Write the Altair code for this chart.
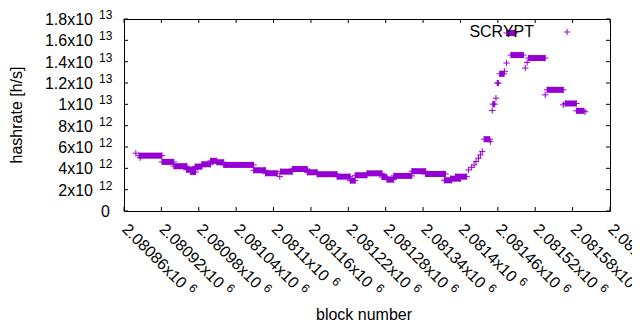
import altair as alt
import pandas as pd

PURPLE = "#9400D3"
FONT = "Liberation Sans"
W, H = 486, 192

# ---- data (hashrate in units of 1e12 h/s) ----
# runs of blocks where many consecutive points sit at (about) the same value
band_start = [2080884, 2080921, 2080940, 2080960, 2080967, 2080974, 2080985, 2080999,
              2081009, 2081020, 2081068, 2081087, 2081111, 2081130, 2081154, 2081170,
              2081202, 2081223, 2081231, 2081250, 2081274, 2081282, 2081293, 2081322,
              2081344, 2081374, 2081384, 2081392, 2081438, 2081452, 2081459, 2081463,
              2081474, 2081481, 2081509, 2081539, 2081568, 2081586]
band_end = [2080921, 2080940, 2080961, 2080975, 2080975, 2080985, 2080999, 2081009,
            2081020, 2081068, 2081087, 2081106, 2081130, 2081154, 2081170, 2081202,
            2081223, 2081231, 2081250, 2081274, 2081282, 2081293, 2081322, 2081344,
            2081376, 2081386, 2081400, 2081410, 2081447, 2081455, 2081461, 2081470,
            2081487, 2081501, 2081536, 2081565, 2081586, 2081598]
band_value = [5.19, 4.60, 4.20, 3.88, 3.66, 4.16, 4.38, 4.70,
              4.57, 4.32, 3.82, 3.54, 3.69, 3.94, 3.63, 3.45,
              3.22, 2.85, 3.35, 3.53, 3.19, 2.94, 3.29, 3.73,
              3.47, 2.88, 3.03, 3.22, 6.73, 10.02, 11.99, 12.86,
              16.69, 14.62, 14.34, 11.36, 10.08, 9.39]

# isolated points
pt_block = [2080879, 2080886, 2081110, 2081413, 2081418, 2081422, 2081425, 2081429,
            2081432, 2081435, 2081448, 2081451, 2081457, 2081471, 2081474, 2081504,
            2081507, 2081536, 2081565, 2081600]
pt_value = [5.42, 5.00, 3.22, 3.85, 4.10, 4.32, 4.63, 4.95,
            5.26, 5.57, 6.50, 9.42, 10.58, 13.10, 13.87, 13.40,
            13.93, 10.89, 9.95, 9.30]

series_name = ["SCRYPT"]

# ---- axis ticks / labels ----
y_ticks = [0, 2, 4, 6, 8, 10, 12, 14, 16, 18]
y_main = ["0", "2x10", "4x10", "6x10", "8x10", "1x10", "1.2x10", "1.4x10", "1.6x10", "1.8x10"]
y_sup = ["", "12", "12", "12", "12", "13", "13", "13", "13", "13"]

x_ticks = [2080860, 2080920, 2080980, 2081040, 2081100, 2081160, 2081220,
           2081280, 2081340, 2081400, 2081460, 2081520, 2081580, 2081640]
x_main = ["2.08086x10", "2.08092x10", "2.08098x10", "2.08104x10", "2.0811x10",
          "2.08116x10", "2.08122x10", "2.08128x10", "2.08134x10", "2.0814x10",
          "2.08146x10", "2.08152x10", "2.08158x10", "2.08164x10"]
x_sup = ["6"] * len(x_ticks)

X_DOMAIN = [2080860, 2081640]
Y_DOMAIN = [0, 18]

xs = alt.Scale(domain=X_DOMAIN, nice=False, zero=False)
ys = alt.Scale(domain=Y_DOMAIN, nice=False, zero=False)

CROSS = "M-1,0L1,0M0,-1L0,1"

band_df = pd.DataFrame({"start": band_start, "end": band_end, "v": band_value})
pt_df = pd.DataFrame({"block": pt_block, "v": pt_value})

bands = alt.Chart(band_df).mark_rule(color=PURPLE, strokeWidth=6, strokeCap="butt").encode(
    x=alt.X("start:Q", scale=xs, axis=None),
    x2="end:Q",
    y=alt.Y("v:Q", scale=ys, axis=None),
)

def cross_layer(df, xf):
    return alt.Chart(df).mark_point(shape=CROSS, filled=False, stroke=PURPLE,
                                    strokeWidth=1, size=40, opacity=1).encode(
        x=alt.X(f"{xf}:Q", scale=xs, axis=None),
        y=alt.Y("v:Q", scale=ys, axis=None),
    )

band_starts = cross_layer(band_df, "start")
band_ends = cross_layer(band_df, "end")
points = cross_layer(pt_df, "block")

# ticks (inward, mirrored)
yt_df = pd.DataFrame({"v": y_ticks, "main": y_main, "sup": y_sup})
xt_df = pd.DataFrame({"b": x_ticks, "main": x_main, "sup": x_sup})

ytick_l = alt.Chart(yt_df).mark_rule(color="black", strokeWidth=1).encode(
    y=alt.Y("v:Q", scale=ys, axis=None), x=alt.value(0), x2=alt.value(4))
ytick_r = alt.Chart(yt_df).mark_rule(color="black", strokeWidth=1).encode(
    y=alt.Y("v:Q", scale=ys, axis=None), x=alt.value(W - 4), x2=alt.value(W))
xtick_b = alt.Chart(xt_df).mark_rule(color="black", strokeWidth=1).encode(
    x=alt.X("b:Q", scale=xs, axis=None), y=alt.value(H - 4), y2=alt.value(H))
xtick_t = alt.Chart(xt_df).mark_rule(color="black", strokeWidth=1).encode(
    x=alt.X("b:Q", scale=xs, axis=None), y=alt.value(0), y2=alt.value(4))

TICK_FS = 16
SUP_FS = 12

ylab_main = alt.Chart(yt_df).transform_filter("datum.sup != ''").mark_text(
    align="right", baseline="middle", font=FONT, fontSize=TICK_FS, color="black", dy=1).encode(
    y=alt.Y("v:Q", scale=ys, axis=None), x=alt.value(-31), text="main:N")
ylab_zero = alt.Chart(yt_df).transform_filter("datum.sup == ''").mark_text(
    align="right", baseline="middle", font=FONT, fontSize=TICK_FS, color="black", dy=1).encode(
    y=alt.Y("v:Q", scale=ys, axis=None), x=alt.value(-14), text="main:N")
ylab_sup = alt.Chart(yt_df).transform_filter("datum.sup != ''").mark_text(
    align="left", baseline="middle", font=FONT, fontSize=SUP_FS, color="black", dy=-4).encode(
    y=alt.Y("v:Q", scale=ys, axis=None), x=alt.value(-25), text="sup:N")

X_LAB_Y = H + 15
xlab_main = alt.Chart(xt_df).mark_text(
    align="left", baseline="middle", angle=45, font=FONT, fontSize=TICK_FS, color="black",
    dx=1).encode(
    x=alt.X("b:Q", scale=xs, axis=None), y=alt.value(X_LAB_Y), text="main:N")

# superscripts placed after main text (advance widths of Liberation Sans)
ADV = {c: 0.556 for c in "0123456789"}
ADV.update({".": 0.278, "x": 0.5})
sup_layers = []
for n in sorted(set(len(s) for s in x_main)):
    sample = [s for s in x_main if len(s) == n][0]
    w = sum(ADV[c] for c in sample) * TICK_FS + 6
    sup_layers.append(
        alt.Chart(xt_df).transform_filter(f"length(datum.main) == {n}").mark_text(
            align="left", baseline="middle", angle=45, font=FONT, fontSize=SUP_FS,
            color="black", dx=w, dy=-5).encode(
            x=alt.X("b:Q", scale=xs, axis=None), y=alt.value(X_LAB_Y), text="sup:N")
    )

title_df = pd.DataFrame({"t": ["hashrate [h/s]"]})
xtitle_df = pd.DataFrame({"t": ["block number"]})
ytitle = alt.Chart(title_df).mark_text(angle=270, align="center", baseline="middle",
                                       font=FONT, fontSize=16, color="black").encode(
    x=alt.value(-107), y=alt.value(H / 2), text="t:N")
xtitle = alt.Chart(xtitle_df).mark_text(align="center", baseline="middle",
                                        font=FONT, fontSize=16, color="black").encode(
    x=alt.value(240), y=alt.value(296), text="t:N")

leg_df = pd.DataFrame({"name": series_name})
leg_text = alt.Chart(leg_df).mark_text(align="right", baseline="middle", font=FONT,
                                       fontSize=16, color="black").encode(
    x=alt.value(410), y=alt.value(13), text="name:N")
leg_pt = alt.Chart(leg_df).mark_point(shape=CROSS, filled=False, stroke=PURPLE,
                                      strokeWidth=1, size=40, opacity=1).encode(
    x=alt.value(443), y=alt.value(13))

chart = alt.layer(
    ytick_l, ytick_r, xtick_b, xtick_t,
    bands, band_starts, band_ends, points,
    ylab_main, ylab_zero, ylab_sup, xlab_main, *sup_layers,
    ytitle, xtitle, leg_text, leg_pt,
).properties(
    width=W, height=H,
    padding={"left": 116, "top": 11, "right": 22, "bottom": 111},
    autosize="none",
    background="white",
).configure_view(stroke="black", strokeWidth=1)

chart.save("out.html", embed_options={"renderer": "svg", "actions": False})
